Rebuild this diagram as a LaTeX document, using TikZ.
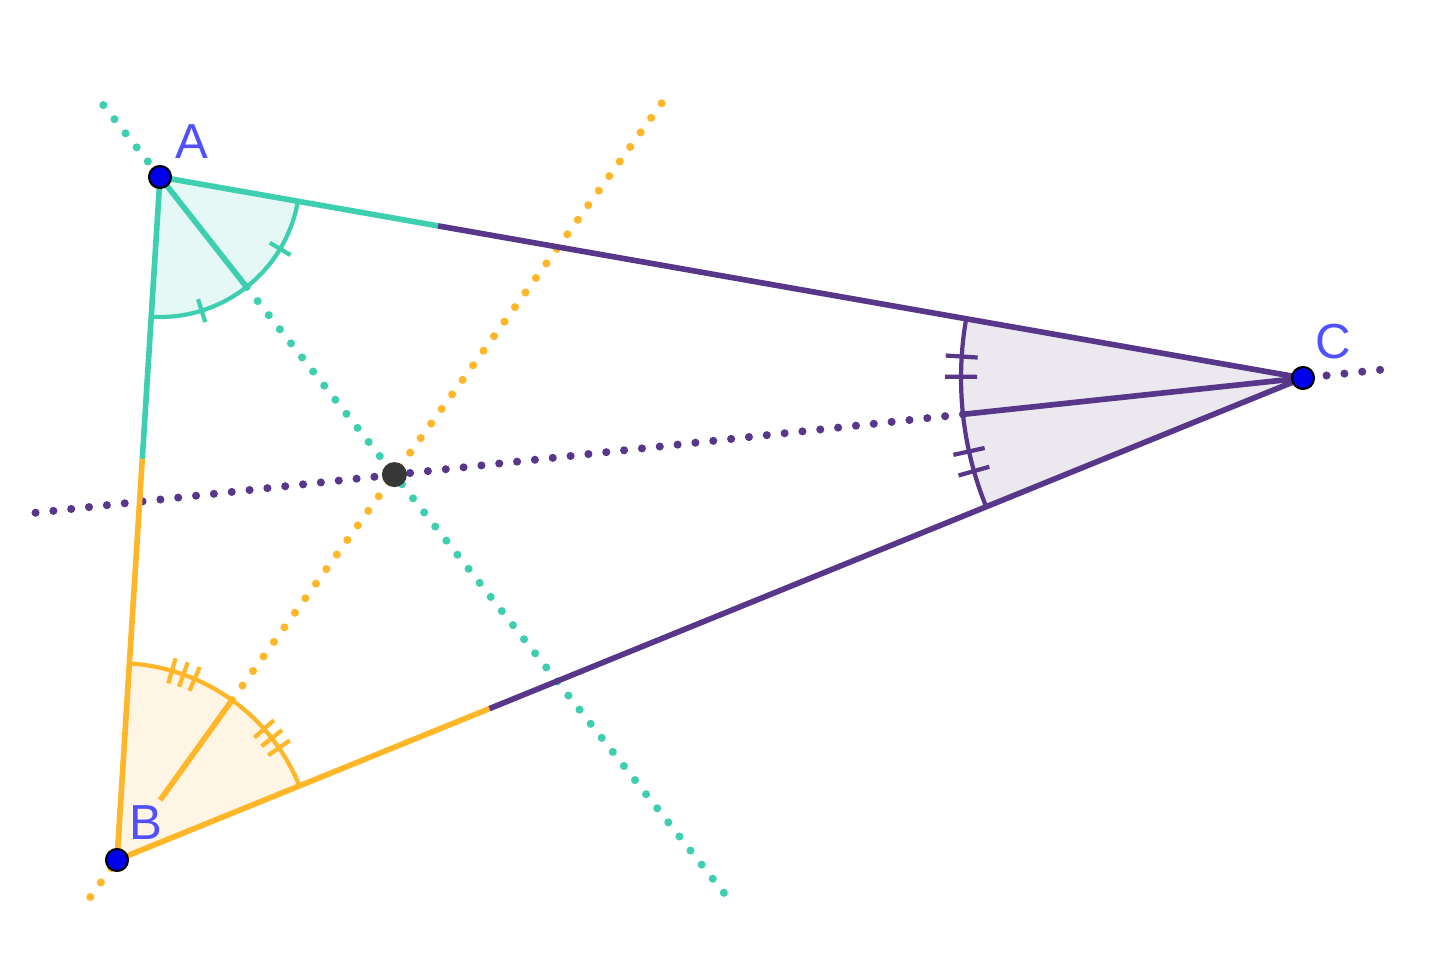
\documentclass[tikz,border=0pt]{standalone}
\usepackage{fontspec}
\setmainfont{Liberation Sans}
\usepackage{xcolor}
\usepackage{tikz}
\usetikzlibrary{calc}

\definecolor{tealA}{RGB}{62,206,176}
\definecolor{orangeB}{RGB}{255,182,40}
\definecolor{purpleC}{RGB}{88,54,138}
\definecolor{tealfill}{RGB}{230,248,245}
\definecolor{orangefill}{RGB}{255,245,228}
\definecolor{purplefill}{RGB}{235,232,240}
\definecolor{ptblue}{RGB}{0,0,235}
\definecolor{lblblue}{RGB}{80,80,255}
\definecolor{inkgrey}{RGB}{55,55,55}

\tikzset{
  vertex/.style={shape=circle, draw=black, fill=ptblue, inner sep=0pt, minimum size=0.22cm, line width=0.6pt},
  centre/.style={shape=circle, fill=inkgrey, inner sep=0pt, minimum size=0.25cm},
  side/.style={line width=1.6pt},
  bisline/.style={line width=2.3pt, line cap=round, dash pattern=on 0pt off 5.1pt},
  anglearc/.style={line width=1.2pt},
  vlabel/.style={text=lblblue, font=\fontsize{14}{14}\selectfont, inner sep=0pt}
}

\begin{document}
\begin{tikzpicture}[x=0.01cm, y=-0.01cm]
            \useasboundingbox (0,0) rectangle (1440,958);

            \coordinate (A) at (160,177);
            \coordinate (B) at (117,860);
            \coordinate (C) at (1303,378);
            \coordinate (I) at (394.4,474.6);

            % contact points of the incircle
            \coordinate (tc) at (142.3,458.8);
            \coordinate (tb) at (438.1,225.9);
            \coordinate (ta) at (489.5,708.6);

            % ends of the bisector lines
            \coordinate (dA1) at ($(A)!-0.2416!(I)$);
            \coordinate (dA2) at ($(A)!2.42!(I)$);
            \coordinate (dB1) at ($(B)!-0.0961!(I)$);
            \coordinate (dB2) at ($(B)!1.966!(I)$);
            \coordinate (dC1) at ($(C)!-0.0848!(I)$);
            \coordinate (dC2) at ($(C)!1.398!(I)$);

            % feet of the bisectors on the arcs
            \coordinate (mA) at ($(A)+(51.8:140)$);
            \coordinate (mB) at ($(B)+(-54.25:197)$);
            \coordinate (mC) at ($(C)+(173.9:342)$);

            \fill[tealfill] (A) -- ++(9.97:140) arc[start angle=9.97, end angle=93.6, radius=140] -- cycle;
            \fill[orangefill] (B) -- ++(-86.4:197) arc[start angle=-86.4, end angle=-22.1, radius=197] -- cycle;
            \fill[purplefill] (C) -- ++(157.9:342) arc[start angle=157.9, end angle=189.97, radius=342] -- cycle;

            \path [bisline, draw=tealA] (dA1) edge (A) (mA) edge (dA2);
            \path [bisline, draw=orangeB] (dB1) edge (B) (mB) edge (dB2);
            \path [bisline, draw=purpleC] (dC1) edge (C) (mC) edge (dC2);

            \path [side, draw=tealA] (A) edge (tc);
            \path [side, draw=tealA] (A) edge (tb);
            \path [side, draw=orangeB] (B) edge (tc);
            \path [side, draw=orangeB] (B) edge (ta);
            \path [side, draw=purpleC] (C) edge (tb);
            \path [side, draw=purpleC] (C) edge (ta);

            \path [side, draw=tealA] (A) edge (mA);
            \path [side, draw=orangeB, shorten <=21pt] (B) edge (mB);
            \path [side, draw=purpleC] (C) edge (mC);

            \draw[anglearc, tealA] (A) ++(9.97:140) arc[start angle=9.97, end angle=93.6, radius=140];
            \draw[anglearc, orangeB] (B) ++(-86.4:197) arc[start angle=-86.4, end angle=-22.1, radius=197];
            \draw[anglearc, purpleC] (C) ++(157.9:342) arc[start angle=157.9, end angle=189.97, radius=342];

            \foreach \t in {30.9,72.7}
                \draw[anglearc, tealA] (A) ++(\t:128) -- ++(\t:24);
            \foreach \t in {-73.8,-70.3,-66.8,-41.7,-38.2,-34.7}
                \draw[anglearc, orangeB] (B) ++(\t:184) -- ++(\t:26);
            \foreach \t in {180.2,183.6,164.2,167.6}
                \draw[anglearc, purpleC] (C) ++(\t:326) -- ++(\t:32);

            \node[centre] (pI) at (I) {};
            \node[vertex] (pA) at (A) {};
            \node[vertex] (pB) at (B) {};
            \node[vertex] (pC) at (C) {};

            \node[vlabel] (lA) at (192,142) {A};
            \node[vlabel] (lB) at (146,823) {B};
            \node[vlabel] (lC) at (1333,342) {C};
        \end{tikzpicture}
\end{document}
